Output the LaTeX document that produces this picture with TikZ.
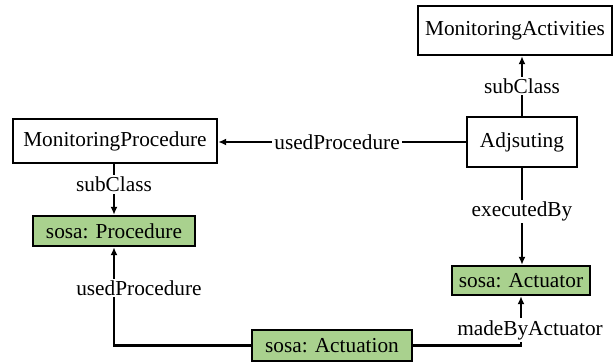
\documentclass[tikz,border=0pt]{standalone}
\usepackage{fontspec}
\setmainfont{Liberation Serif}
\usetikzlibrary{arrows.meta}
\definecolor{sosagreen}{RGB}{169,209,142}
\begin{document}
\begin{tikzpicture}[x=1pt,y=-1pt,
  every node/.style={font=\fontsize{21.3}{25}\selectfont, inner sep=0pt},
  classbox/.style={draw, line width=2.4pt, fill=white, minimum width=#1},
  sosabox/.style={draw, line width=2.4pt, fill=sosagreen, minimum width=#1},
  rel/.style={line width=2.2pt, -{Latex[length=8pt,width=7pt]}},
  lbl/.style={fill=white, inner sep=2pt}]
\useasboundingbox (0,0) rectangle (616,363);
% classes
\node[classbox=194, minimum height=49] (ma) at (515,30.5) {MonitoringActivities};
\node[classbox=110, minimum height=50] (adj) at (522,142) {Adjsuting};
\node[classbox=204, minimum height=44] (mp) at (115,141) {MonitoringProcedure};
% sosa classes
\node[sosabox=162, minimum height=30] (proc) at (114,231) {sosa: Procedure};
\node[sosabox=138, minimum height=29] (act) at (521,280.5) {sosa: Actuator};
\node[sosabox=160, minimum height=31] (actn) at (332,345.5) {sosa: Actuation};
% relations
\draw[rel] (adj.north) -- (adj.north |- ma.south)
  node[lbl, pos=0.5] (l1) {subClass};
\draw[rel] (adj.west) -- (adj.west -| mp.east)
  node[lbl, pos=0.52] (l2) {usedProcedure};
\draw[rel] (mp.south -| proc.north) -- (proc.north)
  node[lbl, pos=0.4] (l3) {subClass};
\draw[rel] (adj.south) -- (adj.south |- act.north)
  node[lbl, pos=0.45] (l4) {executedBy};
\draw[rel] (actn.west) -| (proc.south);
\node[lbl] (l5) at (139,288) {usedProcedure};
\draw[rel] (actn.east) -| (act.south);
\node[lbl] (l6) at (530,330) {madeByActuator};
\end{tikzpicture}
\end{document}
